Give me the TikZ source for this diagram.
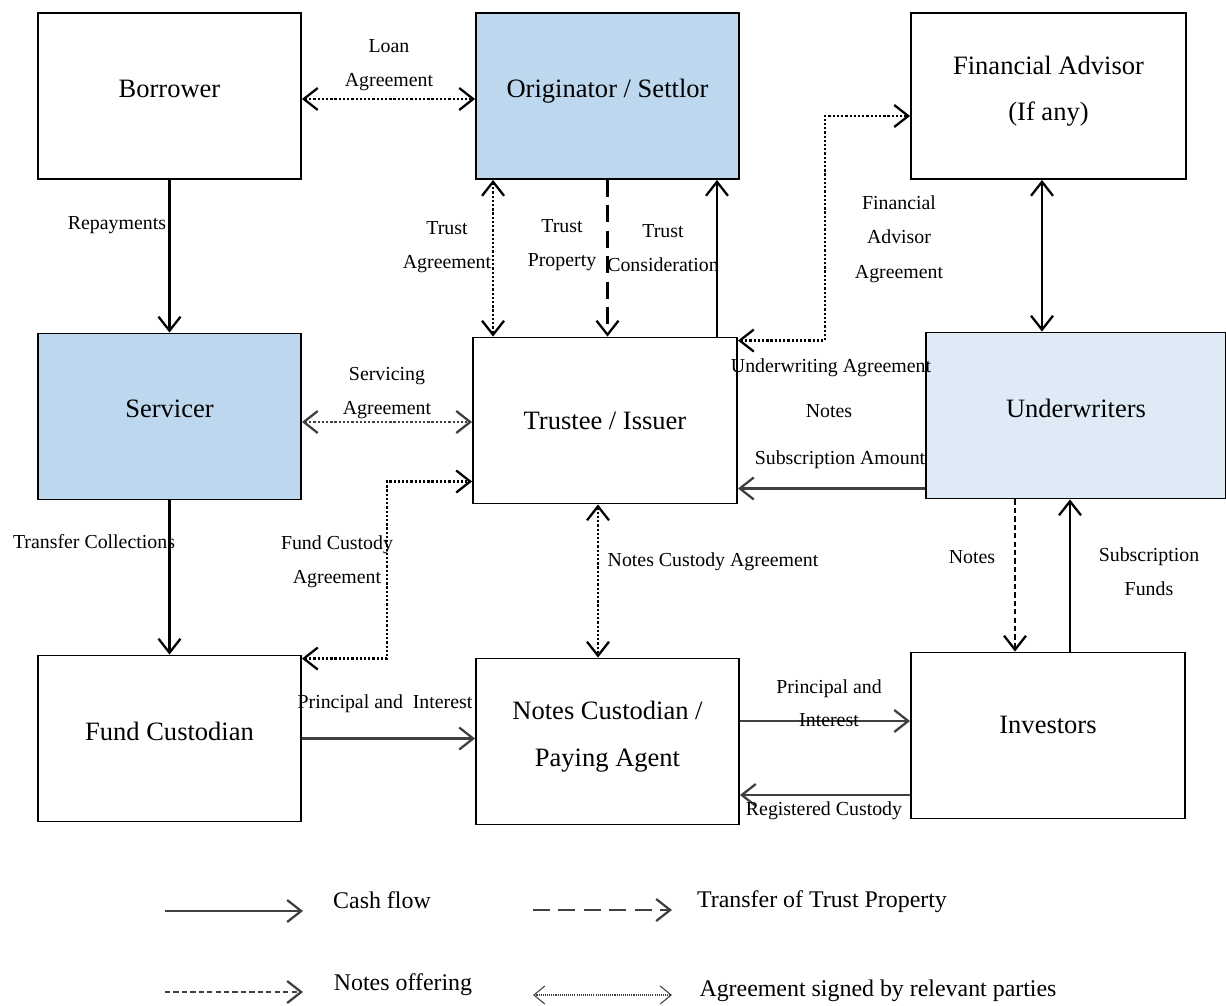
\documentclass[tikz,border=0pt]{standalone}
\usepackage{fontspec}
\setmainfont{Liberation Serif}
\usetikzlibrary{arrows.meta}

\definecolor{settlorblue}{RGB}{189,215,238}
\definecolor{uwblue}{RGB}{222,235,247}
\definecolor{arrowgray}{RGB}{64,64,64}

\begin{document}
\begin{tikzpicture}[x=0.02cm, y=-0.02cm,
    >={Straight Barb[length=0.28cm,width=0.44cm]},
    party/.style={rectangle, draw=black, line width=1.1pt, inner sep=0pt,
        minimum width=5.26cm, minimum height=3.32cm, align=center,
        text depth=0.3cm, font=\fontsize{15.1}{26.5}\selectfont},
    lbl/.style={inner sep=0pt, align=center, font=\fontsize{11.3}{19.5}\selectfont},
    keytext/.style={inner sep=0pt, anchor=center, font=\fontsize{13.6}{16}\selectfont},
    cash/.style={->, line width=1.3pt},
    agree/.style={<->, line width=1.3pt, dash pattern=on 1.3pt off 1.1pt},
    transfer/.style={->, line width=1.3pt, dash pattern=on 9.5pt off 5pt},
    offer/.style={->, line width=1.3pt, dash pattern=on 3pt off 1.8pt}]

    \useasboundingbox (0,0) rectangle (1226,1005);

    % parties
    \node[party] (borrower) at (169.5,96) {Borrower};
    \node[party, fill=settlorblue] (orig) at (607.5,96) {Originator / Settlor};
    \node[party, minimum width=5.5cm] (finadv) at (1048.5,96) {Financial Advisor\\(If any)};
    \node[party, fill=settlorblue] (servicer) at (169.5,416.5) {Servicer};
    \node[party, minimum width=5.28cm, text depth=0pt] (trustee) at (605,420.5) {Trustee / Issuer};
    \node[party, fill=uwblue, minimum width=6cm] (uw) at (1076,415.5) {Underwriters};
    \node[party] (fund) at (169.5,738.5) {Fund Custodian};
    \node[party] (nc) at (607.5,741.5) {Notes Custodian /\\Paying Agent};
    \node[party, minimum width=5.48cm, text depth=0.42cm] (investors) at (1048,735.5) {Investors};

    % top row
    \draw[agree] ([yshift=-0.06cm]borrower.east) coordinate (la) -- (la -| orig.west);
    \draw[cash] (borrower.south) -- (borrower.south |- servicer.north);
    \draw[agree] ([xshift=0.36cm]orig.south west) coordinate (ta) -- (ta |- trustee.north);
    \draw[transfer] (orig.south) -- (orig.south |- trustee.north);
    \draw[cash] ([xshift=-0.42cm]trustee.north east) coordinate (tc) -- (tc |- orig.south);
    \draw[agree] ([yshift=-0.08cm]trustee.north east) -- ++(1.74cm,0) |- ([yshift=-0.4cm]finadv.west);
    \draw[<->, line width=1.3pt] ([xshift=-0.13cm]finadv.south) coordinate (fu) -- (fu |- uw.north);

    % middle row
    \draw[agree, draw=arrowgray] ([yshift=-0.11cm]servicer.east) coordinate (sa) -- (sa -| trustee.west);
    \draw[cash, draw=arrowgray] ([yshift=0.22cm]uw.south west) coordinate (sub) -- (sub -| trustee.east);
    \draw[cash] (servicer.south) -- (fund.north);
    \draw[agree] ([yshift=-0.08cm]fund.north east) -- ++(1.7cm,0) |- ([yshift=-1.22cm]trustee.west);
    \draw[agree] ([xshift=-0.14cm]trustee.south) coordinate (nca) -- (nca |- nc.north);
    \draw[offer] ([xshift=-1.22cm]uw.south) coordinate (no) -- (no |- investors.north);
    \draw[cash] ([xshift=0.44cm]investors.north) coordinate (sf) -- (sf |- uw.south);

    % bottom row
    \draw[cash, draw=arrowgray] (fund.east) -- (fund.east -| nc.west);
    \draw[cash, draw=arrowgray] ([yshift=0.41cm]nc.east) coordinate (pi) -- (pi -| investors.west);
    \draw[cash, draw=arrowgray] ([yshift=-1.19cm]investors.west) coordinate (rc) -- (rc -| nc.east);

    % connector labels
    \node[lbl] (lLoan) at (389,65) {Loan\\Agreement};
    \node[lbl] (lRepay) at (117,225) {Repayments};
    \node[lbl] (lTrustAgr) at (447,247) {Trust\\Agreement};
    \node[lbl] (lTrustProp) at (562,245) {Trust\\Property};
    \node[lbl] (lTrustCons) at (663,248) {Trust\\Consideration};
    \node[lbl] (lFinAgr) at (899,239) {Financial\\Advisor\\Agreement};
    \node[lbl] (lServ) at (387,393) {Servicing\\Agreement};
    \node[lbl] (lUwAgr) at (831,368) {Underwriting Agreement};
    \node[lbl] (lUwNotes) at (829,411) {Notes};
    \node[lbl] (lSubAmt) at (840,460) {Subscription Amount};
    \node[lbl] (lTransfer) at (94,542) {Transfer Collections};
    \node[lbl] (lFundAgr) at (337,562) {Fund Custody\\Agreement};
    \node[lbl] (lNotesAgr) at (713,562) {Notes Custody Agreement};
    \node[lbl] (lNotes) at (972,557) {Notes};
    \node[lbl] (lSubFunds) at (1149,572) {Subscription\\Funds};
    \node[lbl] (lPI) at (385,704) {Principal and\ \ Interest};
    \node[lbl, font=\fontsize{11.3}{18.5}\selectfont] (lPIinv) at (829,703) {Principal and\\Interest};
    \node[lbl] (lReg) at (824,811) {Registered Custody};

    % key
    \coordinate (k1a) at (165,911);
    \coordinate (k1b) at (303,911);
    \coordinate (k2a) at (533,910);
    \coordinate (k2b) at (672,910);
    \coordinate (k3a) at (165,992);
    \coordinate (k3b) at (303,992);
    \coordinate (k4a) at (533,995);
    \coordinate (k4b) at (672,995);
    \draw[cash, draw=arrowgray] (k1a) -- (k1b);
    \draw[transfer, draw=arrowgray] (k2a) -- (k2b);
    \draw[offer, draw=arrowgray] (k3a) -- (k3b);
    \draw[<->, draw=arrowgray, line width=0.6pt, dash pattern=on 0.6pt off 0.6pt,
        >={Straight Barb[length=0.22cm,width=0.36cm]}] (k4a) -- (k4b);
    \node[keytext] (kCash) at (382,900) {Cash flow};
    \node[keytext] (kTransfer) at (822,902) {Transfer of Trust Property};
    \node[keytext] (kOffer) at (403,985) {Notes offering};
    \node[keytext] (kAgree) at (878,991) {Agreement signed by relevant parties};
\end{tikzpicture}
\end{document}
